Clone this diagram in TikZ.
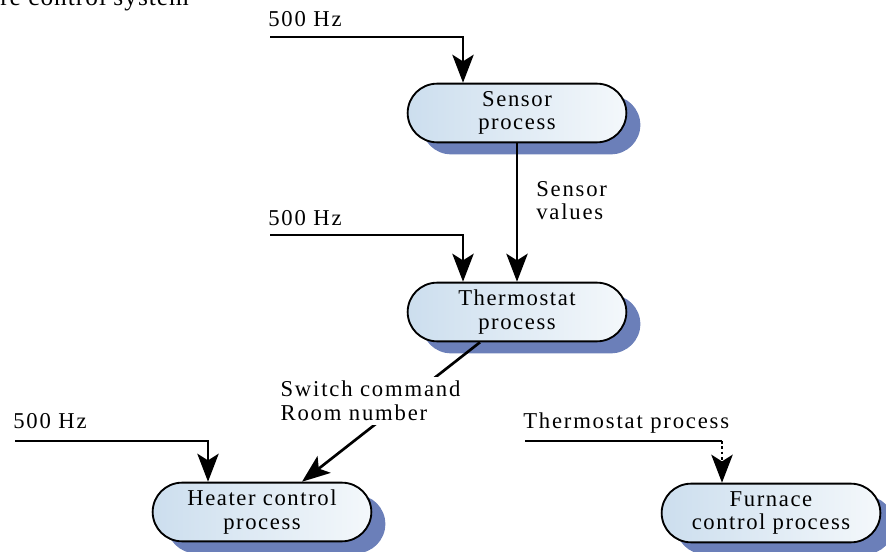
\documentclass[tikz,border=0pt]{standalone}
\usepackage{fontspec}
\setmainfont{Liberation Serif}
\newfontfamily\spacedfont[LetterSpace=7]{Liberation Serif}
\newfontfamily\lblfont[LetterSpace=8]{Liberation Serif}
\newfontfamily\titlefont[LetterSpace=4]{Liberation Serif}
\usetikzlibrary{arrows.meta,shapes.misc,shadows,calc}
\definecolor{shadowblue}{HTML}{6B7FB9}
\definecolor{fillleft}{HTML}{CCDEEE}
\definecolor{fillright}{HTML}{F4F8FB}
\tikzset{
  proc/.style={rounded rectangle, draw=black, line width=1.4pt,
    minimum width=166pt, minimum height=44pt, inner sep=1pt,
    left color=fillleft, right color=fillright,
    align=center, font=\spacedfont\fontsize{17}{17.5}\selectfont,
    general shadow={fill=shadowblue, shadow xshift=10.5pt, shadow yshift=-9pt}},
  lbl/.style={font=\lblfont\fontsize{17}{17.5}\selectfont, inner sep=0pt},
  tip/.style={-{Stealth[length=21pt,width=16pt,inset=5pt]}},
  flow/.style={line width=2pt, tip},
  plain/.style={line width=2pt}
}
\begin{document}
\begin{tikzpicture}[x=0.75pt,y=-0.75pt]
\useasboundingbox (0,0) rectangle (886,552);
% cut-off title
\node[anchor=base west, inner sep=0pt, font=\titlefont\fontsize{19}{20}\selectfont] (title) at (0,6) {re control system};
% process nodes
\node[proc] (sensor) at (517,113) {Sensor\\process};
\node[proc] (thermo) at (517,312) {Thermostat\\process};
\node[proc] (heater) at (262,512) {Heater control\\process};
\node[proc] (furnace) at (771,513) {Furnace\\control process};
% 500 Hz inputs
\node[lbl, anchor=base west] (hz1) at (268,27) {500 Hz};
\coordinate (h1) at (270,37);
\draw[flow] (h1) -| ($(sensor.north)+(-54,0)$);
\node[lbl, anchor=base west] (hz2) at (268,226) {500 Hz};
\coordinate (h2) at (270,235);
\draw[flow] (h2) -| ($(thermo.north)+(-54,0)$);
\node[lbl, anchor=base west] (hz3) at (13,429) {500 Hz};
\coordinate (h3) at (15,441);
\draw[flow] (h3) -| ($(heater.north)+(-54,0)$);
% sensor values
\draw[flow] (sensor.south) -- (thermo.north);
\node[lbl, anchor=north west, align=left] (sv) at (536,181) {Sensor\\values};
% switch command
\draw[flow] ($(thermo.south)+(-37,0)$) -- ($(heater.north)+(40,0)$);
\node[lbl, anchor=north west, align=left, fill=white, inner ysep=3pt, inner xsep=1pt] (sc) at (279,377) {Switch command\\Room number};
% thermostat process -> furnace
\node[lbl, anchor=base west] (tp) at (523,428) {Thermostat process};
\coordinate (t1) at (525,441);
\coordinate (t2) at ($(furnace.north)+(-49,0)$);
\draw[plain] (t1) -- (t2 |- t1);
\draw[line width=2pt, dotted, tip] (t2 |- t1) -- (t2);
\end{tikzpicture}
\end{document}
